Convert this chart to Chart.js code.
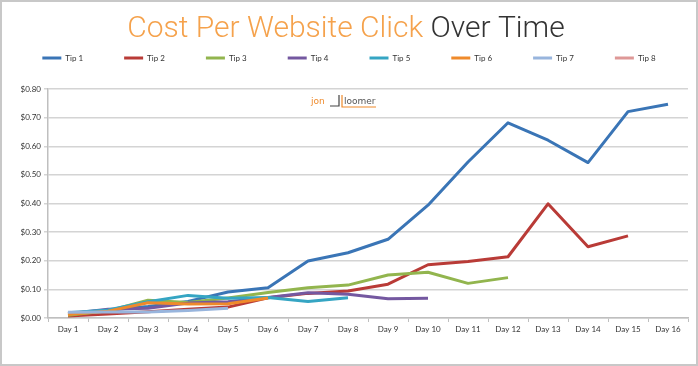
<!DOCTYPE html>
<html>
<head>
<meta charset="utf-8">
<script src="https://cdn.jsdelivr.net/npm/chart.js@4.4.1/dist/chart.umd.min.js"></script>
<style>
  html, body { margin: 0; padding: 0; background: #fff; }
  #wrap { width: 698px; height: 366px; }
</style>
</head>
<body>
<div id="wrap"><canvas id="cpcChart" width="698" height="366"></canvas></div>
<script>
    // data
    const days = ['Day 1', 'Day 2', 'Day 3', 'Day 4', 'Day 5', 'Day 6', 'Day 7', 'Day 8',
                  'Day 9', 'Day 10', 'Day 11', 'Day 12', 'Day 13', 'Day 14', 'Day 15', 'Day 16'];
    const tipNames = ['Tip 1', 'Tip 2', 'Tip 3', 'Tip 4', 'Tip 5', 'Tip 6', 'Tip 7', 'Tip 8'];
    const tip1 = [0.015, 0.028, 0.040, 0.058, 0.091, 0.106, 0.199, 0.228, 0.275, 0.394, 0.545, 0.682, 0.621, 0.543, 0.721, 0.747];
    const tip2 = [0.007, 0.014, 0.022, 0.031, 0.038, 0.071, 0.086, 0.094, 0.118, 0.186, 0.197, 0.214, 0.399, 0.249, 0.287];
    const tip3 = [0.010, 0.025, 0.062, 0.054, 0.070, 0.089, 0.106, 0.115, 0.150, 0.160, 0.121, 0.141];
    const tip4 = [0.015, 0.031, 0.034, 0.052, 0.057, 0.072, 0.088, 0.083, 0.067, 0.069];
    const tip5 = [0.018, 0.028, 0.057, 0.079, 0.069, 0.072, 0.058, 0.071];
    const tip6 = [0.012, 0.024, 0.053, 0.049, 0.050, 0.070];
    const tip7 = [0.020, 0.021, 0.021, 0.026, 0.034];
    const tip8 = [0.018];

    const titleLeft = 'Cost Per Website Click ';
    const titleRight = 'Over Time';

    const tipColors = ['#3A75B6', '#B93B37', '#92B54E', '#7458A0', '#35A5C3', '#EF8A2B', '#98B5DD', '#DE9897'];
    const tipValues = [tip1, tip2, tip3, tip4, tip5, tip6, tip7, tip8];

    const tickFont = { family: 'Lato', size: 8 };

    // white card with grey frame, title and the little logo
    const decorPlugin = {
      id: 'decor',
      beforeDraw(chart) {
        const c = chart.ctx;
        c.save();
        c.fillStyle = '#fff';
        c.fillRect(0, 0, chart.width, chart.height);
        c.strokeStyle = '#c8c8c8';
        c.lineWidth = 2;
        c.strokeRect(1, 1, chart.width - 2, chart.height - 2);
        c.restore();
      },
      afterDraw(chart) {
        const c = chart.ctx;
        c.save();
        c.font = '300 30px Roboto';
        c.textBaseline = 'alphabetic';
        const wa = c.measureText(titleLeft).width;
        const wb = c.measureText(titleRight).width;
        const x0 = chart.width / 2 - 3 - (wa + wb) / 2;
        c.fillStyle = '#F5A24C';
        c.fillText(titleLeft, x0, 37);
        c.fillStyle = '#333333';
        c.fillText(titleRight, x0 + wa, 37);

        // jon | loomer mark
        c.font = '9px "DejaVu Sans"';
        c.fillStyle = '#EF8A2B';
        c.fillText('jon', 311, 104);
        c.fillStyle = '#555';
        c.fillText('loomer', 344, 104);
        c.strokeStyle = '#444';
        c.lineWidth = 1.2;
        c.beginPath();
        c.moveTo(339, 95); c.lineTo(339, 106); c.lineTo(330, 106);
        c.stroke();
        c.strokeStyle = '#EF8A2B';
        c.beginPath();
        c.moveTo(342, 95); c.lineTo(342, 107); c.lineTo(376, 107);
        c.stroke();
        c.restore();
      }
    };

    const datasets = tipNames.map((name, i) => ({
      label: name,
      data: tipValues[i],
      borderColor: tipColors[i],
      backgroundColor: tipColors[i],
      borderWidth: 3,
      pointRadius: 0,
      pointHoverRadius: 0,
      tension: 0,
      fill: false,
      borderJoinStyle: 'round',
      order: tipNames.length - i
    }));

    const cpcChart = new Chart(document.getElementById('cpcChart'), {
      type: 'line',
      data: { labels: days, datasets: datasets },
      options: {
        responsive: false,
        animation: false,
        layout: { padding: { top: 13, right: 0, left: 0, bottom: 0 } },
        plugins: {
          tooltip: { enabled: false },
          legend: {
            position: 'top',
            labels: {
              boxWidth: 19,
              boxHeight: 3,
              padding: 41,
              color: '#333',
              font: tickFont,
              generateLabels: chart => chart.data.datasets.map((ds, i) => ({
                text: ds.label,
                fillStyle: ds.borderColor,
                strokeStyle: ds.borderColor,
                lineWidth: 0,
                fontColor: '#333',
                hidden: false,
                datasetIndex: i
              }))
            }
          },
          // empty block used as a gap between legend and plot
          subtitle: {
            display: true,
            text: '',
            position: 'top',
            weight: 500,
            font: { size: 10, lineHeight: 1 },
            padding: { top: 7, bottom: 0 }
          }
        },
        scales: {
          x: {
            offset: true,
            grid: { offset: true, drawOnChartArea: false, drawTicks: true, tickLength: 4, color: '#bfbfbf', lineWidth: 1 },
            border: { color: '#bfbfbf', width: 1.5 },
            ticks: { font: tickFont, color: '#333', padding: 3, maxRotation: 0, autoSkip: false },
            afterFit: s => { s.height = 48; s.paddingRight = 10; }
          },
          y: {
            min: 0,
            max: 0.8,
            ticks: {
              stepSize: 0.1,
              font: tickFont,
              color: '#333',
              padding: 3,
              callback: v => '$' + v.toFixed(2)
            },
            grid: { color: '#d4d4d4', lineWidth: 1.5, tickLength: 4, drawTicks: true },
            border: { color: '#bfbfbf', width: 1.5 },
            afterFit: s => { s.width = 48; }
          }
        }
      },
      plugins: [decorPlugin]
    });
</script>
</body>
</html>
